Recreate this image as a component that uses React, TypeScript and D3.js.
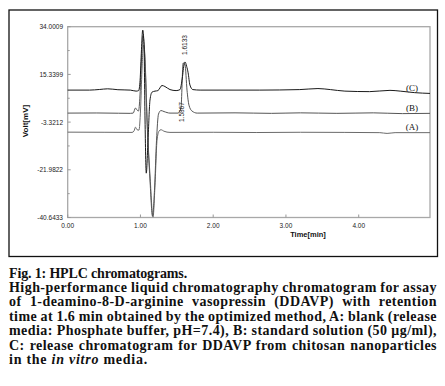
import React, { useEffect, useRef } from "react";
import * as d3 from "d3";

// axis ticks
const yTicks = [34.0009, 15.3399, -3.3212, -21.9822, -40.6433];
const xTicks = [0, 1, 2, 3, 4];

// [time (min), signal (mV)]
const traceA: [number, number][] = [
  [0, -7.25], [0.5, -7.3], [0.884, -7.35], [0.911, -6.85], [0.932, -5.3],
  [0.953, -6.3], [0.98, -6.45], [1.001, 1.4], [1.021, 17], [1.042, 26.8],
  [1.063, 21], [1.097, -6.5], [1.131, -24], [1.173, -40.5], [1.2, -28],
  [1.228, -10.4], [1.255, -6.85], [1.282, -6.3], [1.324, -6.9], [1.406, -7.35],
  [2.0, -7.3], [2.6, -7.4], [3.2, -7.3], [3.8, -7.35], [4.29, -7.45],
  [4.39, -7.75], [4.5, -7.45], [4.98, -7.45],
];

const traceB: [number, number][] = [
  [0, 0.2], [0.4, 0.25], [0.7, 0.15], [0.86, 0.1], [0.9, 0.2], [0.932, 2.2],
  [0.953, 1.4], [0.973, 1.0], [0.994, 7.3], [1.014, 21], [1.035, 30.4],
  [1.056, 24.9], [1.09, -2.5], [1.131, -26], [1.166, -40.1], [1.193, -30],
  [1.221, -10.4], [1.248, -0.2], [1.282, 1.2], [1.324, 0.8], [1.406, 0.2],
  [1.516, 0.2], [1.557, 2.2], [1.587, 19.8], [1.613, 19.0], [1.64, 9.2],
  [1.667, 3.3], [1.709, 1.0], [1.78, 0.2], [2.3, 0.3], [2.8, 0.1], [3.2, 0.3],
  [3.7, 0.1], [4.2, 0.3], [4.6, 0.0], [4.98, 0.1],
];

const traceC: [number, number][] = [
  [0, 9.2], [0.3, 9.2], [0.44, 9.45], [0.55, 9.7], [0.69, 9.35], [0.86, 9.2],
  [0.94, 8.8], [0.975, 9.0], [0.995, 13], [1.014, 25], [1.031, 32.7],
  [1.049, 26.8], [1.063, -2.5], [1.08, -23.3], [1.104, -10.4], [1.131, 5.3],
  [1.159, 8.4], [1.2, 8.8], [1.24, 9.0], [1.296, 11.0], [1.337, 10.6],
  [1.406, 9.4], [1.49, 9.0], [1.544, 9.4], [1.575, 13.9], [1.6, 19.4],
  [1.613, 20.2], [1.635, 18.5], [1.655, 16.0], [1.68, 11.2], [1.72, 9.4],
  [1.82, 9.2], [2.64, 9.2], [3.19, 9.4], [3.44, 9.8], [3.61, 9.4], [3.81, 8.8],
  [4.15, 8.6], [4.43, 9.1], [4.57, 8.8], [4.77, 8.2], [4.98, 7.9],
];

const traces = [traceA, traceB, traceC];
const traceNames = ["(A)", "(B)", "(C)"];
const traceColors = ["#6a6a6a", "#555", "#1a1a1a"];

const peakTimes = [1.5867, 1.6133];

const captionLines = [
  "High-performance liquid chromatography chromatogram for assay",
  "of 1-deamino-8-D-arginine vasopressin (DDAVP) with retention",
  "time at 1.6 min obtained by the optimized method, A: blank (release",
  "media: Phosphate buffer, pH=7.4), B: standard solution (50 μg/ml),",
  "C: release chromatogram for DDAVP from chitosan nanoparticles",
];

const plot = { left: 67.7, right: 430, top: 26.7, bottom: 217.5 };

export default function App() {
  const ref = useRef<SVGSVGElement>(null);

  const x = d3.scaleLinear().domain([0, 4.98]).range([plot.left, plot.right]);
  const y = d3.scaleLinear().domain([-40.6433, 34.0009]).range([plot.bottom, plot.top]);
  const line = d3
    .line<[number, number]>()
    .x(d => x(d[0]))
    .y(d => y(d[1]))
    .curve(d3.curveMonotoneX);

  const minor = yTicks.slice(1).map((t, i) => (t + yTicks[i]) / 2);

  useEffect(() => {
    const svg = d3.select(ref.current);
    // full lines: justify by stretching the word gaps
    svg.selectAll<SVGTextElement, unknown>("text.just").each(function () {
      const target = +(this.getAttribute("data-w") || 0);
      const gaps = (this.textContent || "").split(" ").length - 1;
      this.style.wordSpacing = "0px";
      const natural = this.getComputedTextLength();
      this.style.wordSpacing = (target - natural) / gaps + "px";
    });
    // short lines: widen letters to the measured width
    svg.selectAll<SVGTextElement, unknown>("text.fit").each(function () {
      const target = +(this.getAttribute("data-w") || 0);
      const n = (this.textContent || "").length;
      this.style.letterSpacing = "0px";
      const natural = this.getComputedTextLength();
      this.style.letterSpacing = (target - natural) / n + "px";
    });
  }, []);

  const capFont = "'Liberation Serif', 'Times New Roman', serif";
  const sans = "'Liberation Sans', Arial, sans-serif";
  const capY = 277.5;
  const capStep = 14.4;
  const capStyle = { letterSpacing: "0.45px" };

  return (
    <svg ref={ref} width={445} height={386} style={{ position: "absolute", left: 0, top: 0 }}>
      <rect width={445} height={386} fill="#fff" />
      <rect x={9} y={10} width={428.5} height={246.5} fill="none" stroke="#111" strokeWidth={1.3} />

      {/* plot box */}
      <rect
        x={plot.left}
        y={plot.top}
        width={plot.right - plot.left}
        height={plot.bottom - plot.top}
        fill="none"
        stroke="#a8a8a8"
        strokeWidth={1.3}
      />

      {yTicks.map(t => (
        <g key={t}>
          <line x1={plot.left} x2={plot.left + 3} y1={y(t)} y2={y(t)} stroke="#999" />
          <text
            x={63}
            y={y(t)}
            textAnchor="end"
            dominantBaseline="central"
            fontFamily={sans}
            fontSize={6.5}
            fill="#222"
          >
            {t.toFixed(4)}
          </text>
        </g>
      ))}
      {minor.map(t => (
        <line key={t} x1={plot.left} x2={plot.left + 2} y1={y(t)} y2={y(t)} stroke="#999" />
      ))}
      {xTicks.map(t => (
        <g key={t}>
          <line x1={x(t)} x2={x(t)} y1={plot.bottom} y2={plot.bottom - 3} stroke="#999" />
          <text
            x={x(t)}
            y={225}
            textAnchor="middle"
            dominantBaseline="central"
            fontFamily={sans}
            fontSize={6.5}
            fill="#222"
          >
            {t.toFixed(2)}
          </text>
        </g>
      ))}

      <text x={308} y={237} textAnchor="middle" fontFamily={sans} fontWeight="bold" fontSize={7.5} fill="#111">
        Time[min]
      </text>
      <text
        transform="translate(25,121) rotate(-90)"
        textAnchor="middle"
        dominantBaseline="central"
        fontFamily={sans}
        fontWeight="bold"
        fontSize={8}
        fill="#111"
      >
        Volt[mV]
      </text>

      {traces.map((tr, i) => (
        <path key={i} d={line(tr) || ""} fill="none" stroke={traceColors[i]} strokeWidth={1} />
      ))}

      {traces.map((tr, i) => (
        <text
          key={i}
          x={412}
          y={y(tr[tr.length - 1][1]) - 2.8}
          textAnchor="middle"
          fontFamily={capFont}
          fontSize={9}
          fill="#111"
        >
          {traceNames[i]}
        </text>
      ))}

      {/* retention time labels */}
      <text
        transform={`translate(${x(peakTimes[0]) - 2},${y(traceB[0][1]) - 1}) rotate(-90)`}
        textAnchor="middle"
        dominantBaseline="central"
        fontFamily={sans}
        fontSize={6.5}
        fill="#222"
      >
        {peakTimes[0].toFixed(4)}
      </text>
      <text
        transform={`translate(${x(peakTimes[1]) - 1},${y(20.2) - 17}) rotate(-90)`}
        textAnchor="middle"
        dominantBaseline="central"
        fontFamily={sans}
        fontSize={6.5}
        fill="#222"
      >
        {peakTimes[1].toFixed(4)}
      </text>

      {/* caption */}
      <text
        className="fit"
        data-w={178}
        x={9}
        y={capY}
        fontFamily={capFont}
        fontWeight="bold"
        fontSize={14}
        fill="#111"
      >
        Fig. 1: HPLC chromatograms.
      </text>
      {captionLines.map((l, i) => (
        <text
          key={i}
          className="just"
          data-w={428}
          x={9}
          y={capY + capStep * (i + 1)}
          fontFamily={capFont}
          fontWeight="bold"
          fontSize={14}
          fill="#111"
          style={capStyle}
        >
          {l}
        </text>
      ))}
      <text
        className="fit"
        data-w={139}
        x={9}
        y={capY + capStep * 6}
        fontFamily={capFont}
        fontWeight="bold"
        fontSize={14}
        fill="#111"
      >
        in the <tspan fontStyle="italic">in vitro</tspan> media.
      </text>
    </svg>
  );
}
